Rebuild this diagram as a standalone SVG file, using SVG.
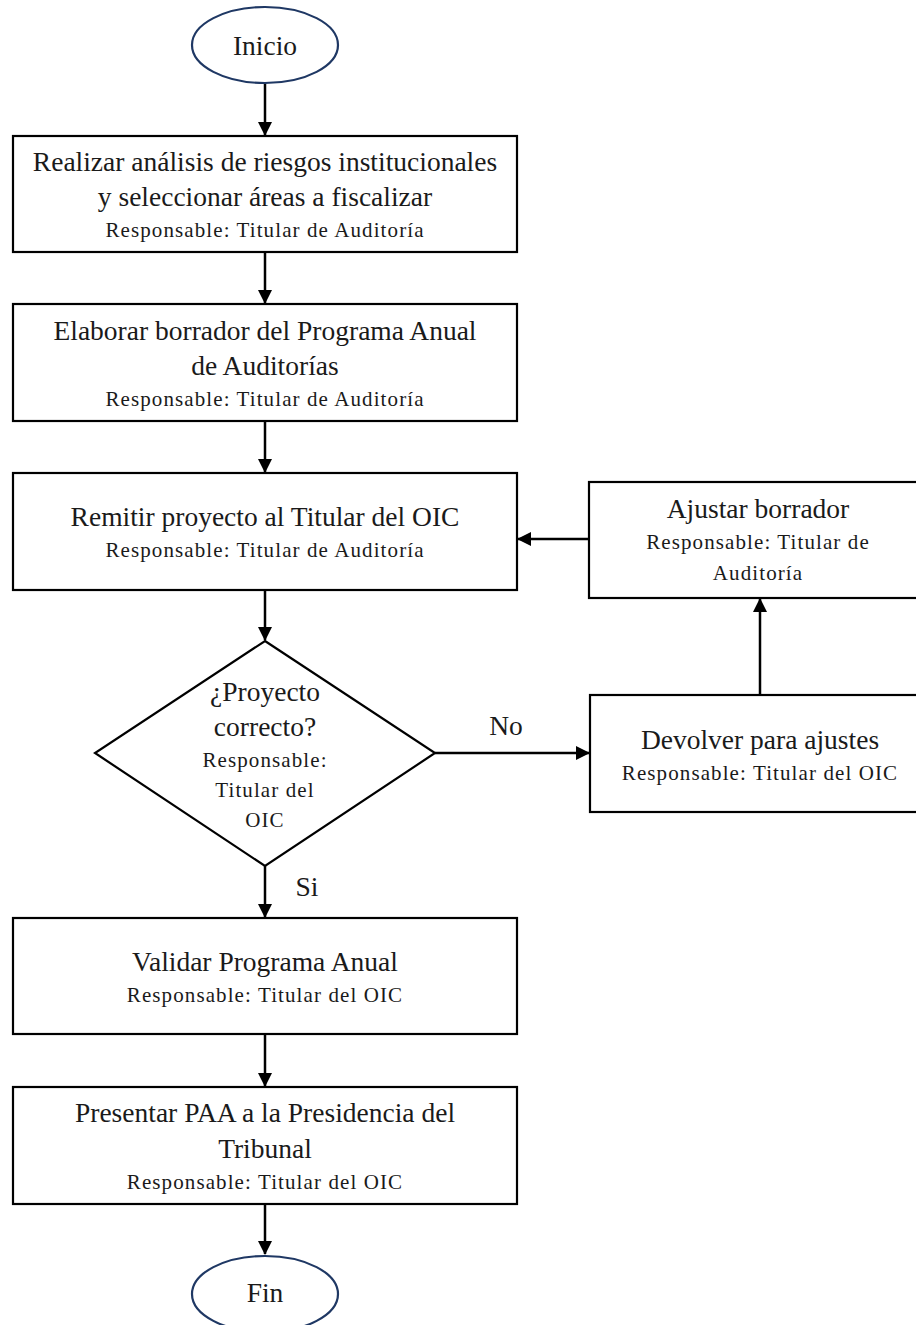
<svg xmlns="http://www.w3.org/2000/svg" width="916" height="1325" viewBox="0 0 916 1325">
<style>
text{font-family:'Liberation Serif',serif}
.box{fill:#fff;stroke:#000;stroke-width:2.2}
.term{fill:#fff;stroke:#1f3864;stroke-width:2.2}
.t{font-size:27.5px;fill:#1a1a1a;text-anchor:middle}
.s{font-size:21px;letter-spacing:1.1px;fill:#1a1a1a;text-anchor:middle}
.c{stroke:#000;stroke-width:2.5;fill:none;marker-end:url(#ah)}
</style>
<defs>
<marker id="ah" markerWidth="14" markerHeight="14" refX="13" refY="7" orient="auto" markerUnits="userSpaceOnUse">
<path d="M0,0 L14,7 L0,14 Z" fill="#000"/>
</marker>
</defs>
<rect width="916" height="1325" fill="#fff"/>
<g id="connectors">
<line class="c" x1="265" y1="83" x2="265" y2="135"/>
<line class="c" x1="265" y1="252" x2="265" y2="303"/>
<line class="c" x1="265" y1="421" x2="265" y2="472"/>
<line class="c" x1="265" y1="590" x2="265" y2="640"/>
<line class="c" x1="435" y1="753" x2="589" y2="753"/>
<line class="c" x1="760" y1="695" x2="760" y2="599"/>
<line class="c" x1="589" y1="539" x2="518" y2="539"/>
<line class="c" x1="265" y1="866" x2="265" y2="917"/>
<line class="c" x1="265" y1="1034" x2="265" y2="1086"/>
<line class="c" x1="265" y1="1204" x2="265" y2="1254"/>
<text class="t" x="506" y="735">No</text>
<text class="t" x="307" y="896">Si</text>
</g>
<g id="inicio">
<ellipse class="term" cx="265" cy="45" rx="73" ry="38"/>
<text class="t" x="265" y="55">Inicio</text>
</g>
<g id="analisis">
<rect class="box" x="13" y="136" width="504" height="116"/>
<text class="t" x="265" y="171">Realizar análisis de riesgos institucionales</text>
<text class="t" x="265" y="206">y seleccionar áreas a fiscalizar</text>
<text class="s" x="265" y="237">Responsable: Titular de Auditoría</text>
</g>
<g id="borrador">
<rect class="box" x="13" y="304" width="504" height="117"/>
<text class="t" x="265" y="340">Elaborar borrador del Programa Anual</text>
<text class="t" x="265" y="375">de Auditorías</text>
<text class="s" x="265" y="406">Responsable: Titular de Auditoría</text>
</g>
<g id="remitir">
<rect class="box" x="13" y="473" width="504" height="117"/>
<text class="t" x="265" y="526">Remitir proyecto al Titular del OIC</text>
<text class="s" x="265" y="557">Responsable: Titular de Auditoría</text>
</g>
<g id="ajustar">
<rect class="box" x="589" y="482" width="340" height="116"/>
<text class="t" x="758" y="518">Ajustar borrador</text>
<text class="s" x="758" y="549">Responsable: Titular de</text>
<text class="s" x="758" y="580">Auditoría</text>
</g>
<g id="decision">
<polygon class="box" points="265,641 435,753 265,866 95,753"/>
<text class="t" x="265" y="701">¿Proyecto</text>
<text class="t" x="265" y="736">correcto?</text>
<text class="s" x="265" y="767">Responsable:</text>
<text class="s" x="265" y="797">Titular del</text>
<text class="s" x="265" y="827">OIC</text>
</g>
<g id="devolver">
<rect class="box" x="590" y="695" width="340" height="117"/>
<text class="t" x="760" y="749">Devolver para ajustes</text>
<text class="s" x="760" y="780">Responsable: Titular del OIC</text>
</g>
<g id="validar">
<rect class="box" x="13" y="918" width="504" height="116"/>
<text class="t" x="265" y="971">Validar Programa Anual</text>
<text class="s" x="265" y="1002">Responsable: Titular del OIC</text>
</g>
<g id="presentar">
<rect class="box" x="13" y="1087" width="504" height="117"/>
<text class="t" x="265" y="1122">Presentar PAA a la Presidencia del</text>
<text class="t" x="265" y="1158">Tribunal</text>
<text class="s" x="265" y="1189">Responsable: Titular del OIC</text>
</g>
<g id="fin">
<ellipse class="term" cx="265" cy="1294" rx="73" ry="38"/>
<text class="t" x="265" y="1302">Fin</text>
</g>
</svg>
